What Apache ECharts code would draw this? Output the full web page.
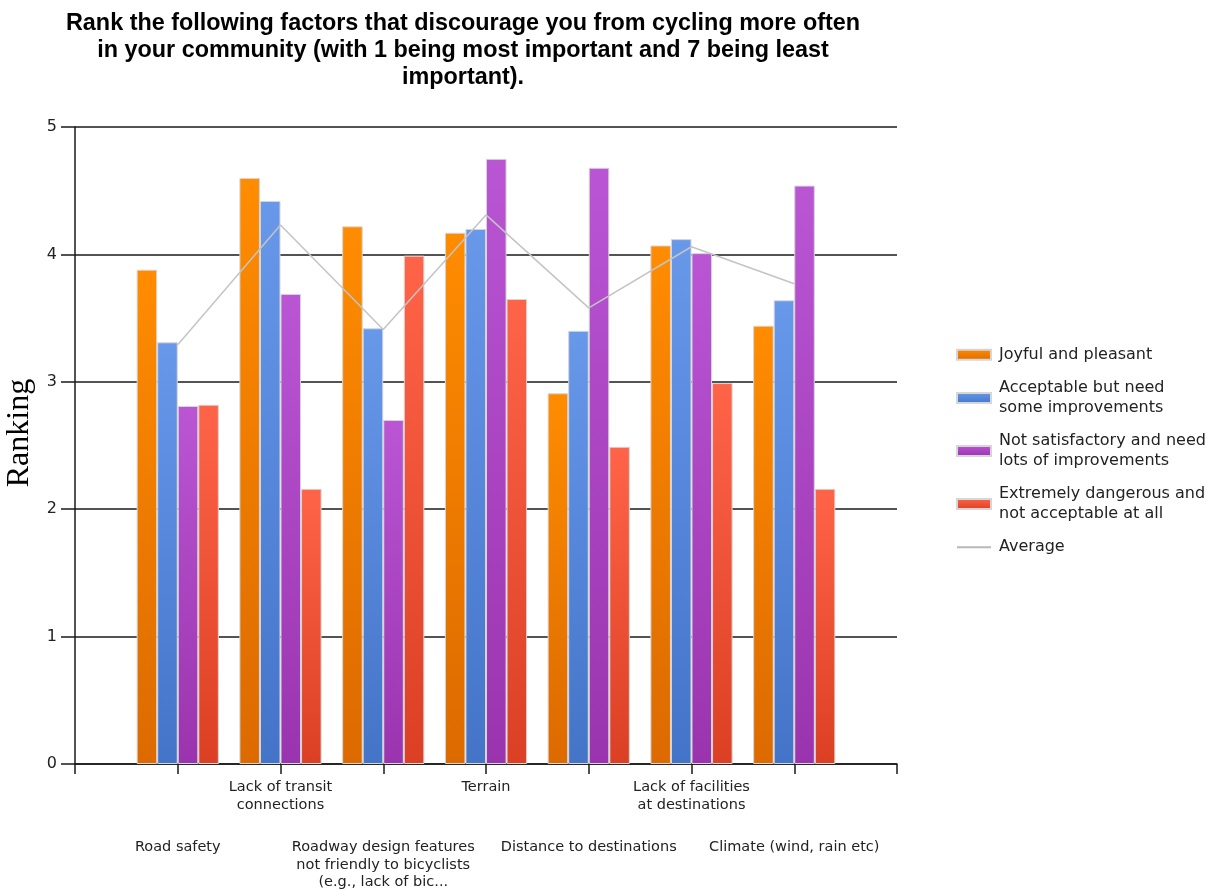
<!DOCTYPE html>
<html><head><meta charset="utf-8">
<script src="https://cdn.jsdelivr.net/npm/echarts@6/dist/echarts.min.js"></script>
<style>html,body{margin:0;padding:0;background:#fff}#c{width:1207px;height:894px}</style>
</head><body><div id="c"></div>
<script>
const titleText = 'Rank the following factors that discourage you from cycling more often\nin your community (with 1 being most important and 7 being least\nimportant).';
const categories = ['Road safety', 'Lack of transit\nconnections', 'Roadway design features\nnot friendly to bicyclists\n(e.g., lack of bic...', 'Terrain', 'Distance to destinations', 'Lack of facilities\nat destinations', 'Climate (wind, rain etc)'];
const joyful = [3.88, 4.60, 4.22, 4.17, 2.91, 4.07, 3.44];
const acceptable = [3.31, 4.42, 3.42, 4.20, 3.40, 4.12, 3.64];
const notSatisfactory = [2.81, 3.69, 2.70, 4.75, 4.68, 4.01, 4.54];
const dangerous = [2.82, 2.16, 3.99, 3.65, 2.49, 2.99, 2.16];
const average = [3.29, 4.23, 3.41, 4.31, 3.58, 4.06, 3.77];
const seriesNames = ['Joyful and pleasant', 'Acceptable but need some improvements', 'Not satisfactory and need lots of improvements', 'Extremely dangerous and not acceptable at all', 'Average'];
const legendLabels = ['Joyful and pleasant', 'Acceptable but need\nsome improvements', 'Not satisfactory and need\nlots of improvements', 'Extremely dangerous and\nnot acceptable at all', 'Average'];
const yTicks = ['0', '1', '2', '3', '4', '5'];
const yAxisName = 'Ranking';

const axisCats = [''].concat(categories, ['']);
function pad(arr) { return ['-'].concat(arr, ['-']); }
function grad(top, bottom) {
  return new echarts.graphic.LinearGradient(0, 0, 0, 1, [{offset: 0, color: top}, {offset: 1, color: bottom}]);
}
const barColors = [grad('#FF8C00', '#DC6A00'), grad('#6898EA', '#4474C8'), grad('#BA55D4', '#9A34AE'), grad('#FF6448', '#DC4024')];
const barData = [joyful, acceptable, notSatisfactory, dangerous];
const labelFont = 'DejaVu Sans';

const chart = echarts.init(document.getElementById('c'), null, {renderer: 'canvas'});
const series = barData.map((d, i) => ({
  name: seriesNames[i], type: 'bar', data: pad(d), barGap: '0%', barCategoryGap: '20%',
  itemStyle: {color: barColors[i], borderColor: '#d6d6d6', borderWidth: 1},
  z: 2
}));
series.push({
  name: seriesNames[4], type: 'line', data: pad(average), symbol: 'none', showSymbol: false,
  lineStyle: {color: '#c4c4c4', width: 1.5}, itemStyle: {color: '#c4c4c4'}, z: 5
});

chart.setOption({
  animation: false,
  backgroundColor: '#fff',
  title: {
    text: titleText, left: 458, top: 5, textAlign: 'center',
    textStyle: {fontFamily: 'Liberation Sans', fontWeight: 'bold', fontSize: 23.4, lineHeight: 27, color: '#000'}
  },
  graphic: [{
    type: 'text', x: 20, y: 433, rotation: Math.PI / 2,
    style: {text: yAxisName, font: '32px "Liberation Serif"', fill: '#000', align: 'center', verticalAlign: 'middle'}
  }],
  legend: {
    orient: 'vertical', left: 951, top: 340, itemWidth: 34, itemHeight: 10, itemGap: 14,
    data: seriesNames.map((n, i) => i < 4 ? {name: n, icon: 'rect'} : {name: n, itemStyle: {opacity: 0, color: 'rgba(0,0,0,0)', borderWidth: 0}, lineStyle: {width: 2, color: '#b8b8b8'}}),
    formatter: (name) => legendLabels[seriesNames.indexOf(name)],
    textStyle: {fontFamily: labelFont, fontSize: 16, lineHeight: 19.5, color: '#222', padding: [0, 0, 0, 3]}
  },
  grid: {left: 75, right: 310, top: 127, bottom: 130, containLabel: false, outerBoundsMode: 'none'},
  xAxis: [{
    type: 'category', data: axisCats, boundaryGap: false,
    axisLine: {lineStyle: {color: '#1a1a1a', width: 1.5}},
    axisTick: {show: true, length: 10, interval: 0, lineStyle: {color: '#1a1a1a', width: 1.5}},
    axisLabel: {interval: 0, margin: 14.5, fontFamily: labelFont, fontSize: 14.5, lineHeight: 17.5, color: '#222',
      formatter: (v, idx) => (idx % 2 === 0 ? v : '')},
    splitLine: {show: false}
  }, {
    type: 'category', data: axisCats, boundaryGap: false, position: 'bottom',
    axisLine: {show: false}, axisTick: {show: false},
    axisLabel: {interval: 0, margin: 74.5, fontFamily: labelFont, fontSize: 14.5, lineHeight: 17.5, color: '#222',
      formatter: (v, idx) => (idx % 2 === 1 ? v : '')},
    splitLine: {show: false}
  }],
  yAxis: {
    type: 'value', min: 0, max: 5, interval: 1,
    axisLine: {show: true, lineStyle: {color: '#1a1a1a', width: 1.5}},
    axisTick: {show: true, length: 14, lineStyle: {color: '#1a1a1a', width: 1.5}},
    axisLabel: {margin: 18, fontFamily: labelFont, fontSize: 16, color: '#222', formatter: (v) => yTicks[Math.round(v)]},
    splitLine: {show: true, lineStyle: {color: '#1a1a1a', width: 1.5}}
  },
  series: series
});
</script></body></html>
